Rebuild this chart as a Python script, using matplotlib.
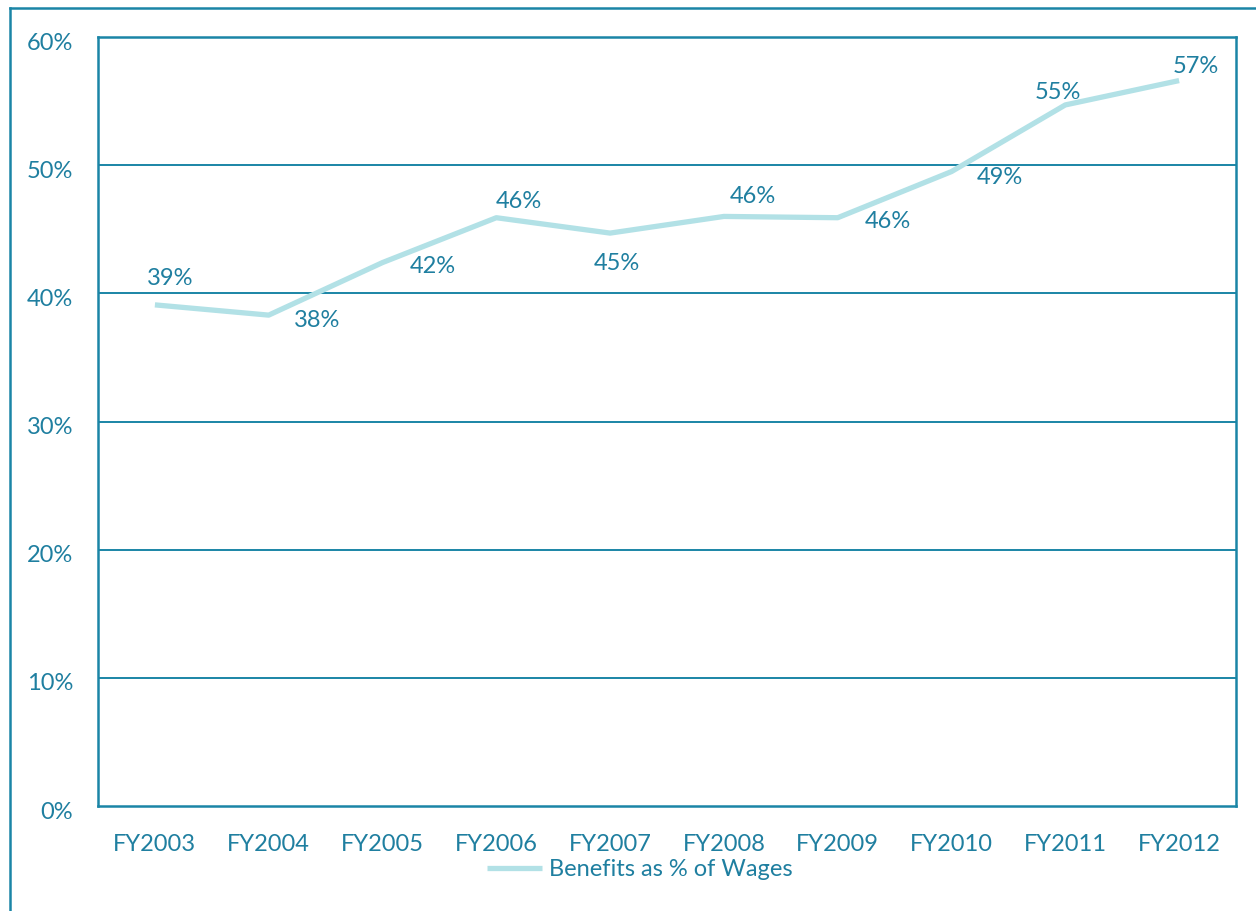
import matplotlib
matplotlib.use("Agg")
import matplotlib.pyplot as plt
import matplotlib.transforms as mtransforms
from matplotlib.lines import Line2D

categories = ["FY2003", "FY2004", "FY2005", "FY2006", "FY2007",
              "FY2008", "FY2009", "FY2010", "FY2011", "FY2012"]
values = [39.1, 38.3, 42.4, 45.9, 44.7, 46.0, 45.9, 49.5, 54.7, 56.6]
labels = ["39%", "38%", "42%", "46%", "45%", "46%", "46%", "49%", "55%", "57%"]
yticks = [0, 10, 20, 30, 40, 50, 60]
ytick_labels = ["0%", "10%", "20%", "30%", "40%", "50%", "60%"]
series_name = "Benefits as % of Wages"

# label offsets (points) relative to data point
offsets = [(11, 19), (35, -4), (36, -3), (16, 12), (5, -22),
           (21, 14), (36, -3), (35, -4), (-5, 9), (12, 10)]

dark = "#1a85a6"
text_c = "#1f7fa0"
light = "#b2e1e6"

plt.rcParams['font.family'] = ['Lato', 'DejaVu Sans']
FS = 17

fig = plt.figure(figsize=(12.56, 9.11), dpi=100)
ax = fig.add_axes([98 / 1256, 1 - 806 / 911, (1236 - 98) / 1256, (806 - 37) / 911])

x = list(range(len(categories)))
line, = ax.plot(x, values, color=light, lw=3.8, solid_capstyle='butt', label=series_name)

for xi, v, lab, off in zip(x, values, labels, offsets):
    ax.annotate(lab, (xi, v), xytext=off, textcoords='offset points',
                ha='center', va='center', fontsize=FS, color=text_c)

ax.set_xlim(-0.5, len(categories) - 0.5)
ax.set_ylim(0, 60)
ax.set_yticks(yticks)
ax.set_yticklabels(ytick_labels)
ax.set_xticks(x)
ax.set_xticklabels(categories)
ax.tick_params(axis='both', length=0, labelsize=FS, colors=text_c)
ax.tick_params(axis='y', pad=18)
ax.tick_params(axis='x', pad=20)
shift = mtransforms.ScaledTranslation(0, -3 / 72, fig.dpi_scale_trans)
for lbl in ax.get_yticklabels():
    lbl.set_horizontalalignment('right')
    lbl.set_transform(lbl.get_transform() + shift)

for yv in yticks[1:-1]:
    ax.axhline(yv, color=dark, lw=1.4, zorder=1)
for s in ax.spines.values():
    s.set_color(dark)
    s.set_linewidth(1.8)

leg = fig.legend(handles=[line], loc='center', bbox_to_anchor=(640 / 1256, 1 - 870 / 911),
                 frameon=False, fontsize=FS, handlelength=2.3, handletextpad=0.3,
                 labelcolor=text_c)

# outer frame (top and left edges visible)
fig.add_artist(Line2D([10 / 1256, 10 / 1256], [0, 1 - 8 / 911], transform=fig.transFigure,
                      color=dark, lw=1.8))
fig.add_artist(Line2D([10 / 1256, 1], [1 - 8 / 911, 1 - 8 / 911], transform=fig.transFigure,
                      color=dark, lw=1.8))

fig.savefig("out.png", dpi=100, facecolor='white')
